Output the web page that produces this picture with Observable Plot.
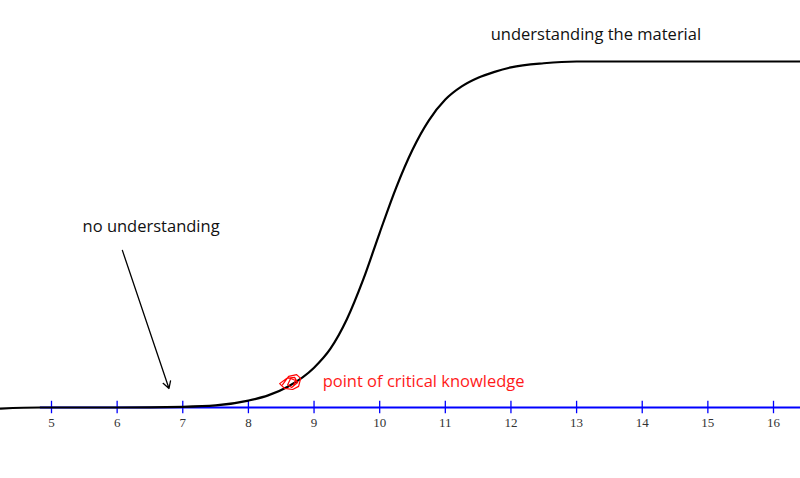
<!DOCTYPE html>
<html>
<head>
<meta charset="utf-8">
<script src="https://cdn.jsdelivr.net/npm/d3@7"></script>
<script src="https://cdn.jsdelivr.net/npm/@observablehq/plot@0.6"></script>
<style>
  html, body { margin: 0; padding: 0; background: #fff; }
  #chart svg { display: block; }
</style>
</head>
<body>
<div id="chart"></div>
<script>
// Axis tick values
const tickValues = [5, 6, 7, 8, 9, 10, 11, 12, 13, 14, 15, 16];

// Learning curve (x: study level, y: understanding 0..1)
const curveX = [4.22, 4.83, 6.0, 7.0, 7.5, 8.0, 8.3, 8.6, 9.0, 9.25, 9.5, 9.75, 10.0, 10.25, 10.5, 10.75, 11.0, 11.25, 11.5, 11.75, 12.0, 12.5, 13.0, 14.0, 16.42];
const curveY = [-0.003, 0.0, 0.0, 0.002, 0.006, 0.020, 0.035, 0.060, 0.115, 0.170, 0.255, 0.370, 0.505, 0.635, 0.745, 0.830, 0.890, 0.928, 0.953, 0.970, 0.983, 0.995, 1.0, 1.0, 1.0];

// Red scribble marking the point of critical knowledge
const scribbleX = [8.521, 8.613, 8.735, 8.796, 8.765, 8.674, 8.552, 8.476, 8.582, 8.704, 8.750, 8.659, 8.598, 8.643, 8.720, 8.689];
const scribbleY = [0.066, 0.090, 0.095, 0.084, 0.061, 0.052, 0.055, 0.069, 0.084, 0.087, 0.072, 0.058, 0.066, 0.084, 0.078, 0.064];

// Annotations
const labels = [
  {x: 5.473, y: 0.523, text: "no understanding", color: "#111"},
  {x: 11.692, y: 1.078, text: "understanding the material", color: "#111"},
  {x: 9.131, y: 0.075, text: "point of critical knowledge", color: "#ff1a1a"}
];
const arrowData = [{x1: 6.08, y1: 0.454, x2: 6.79, y2: 0.055}];
const axisStart = 4.83, axisEnd = 16.5;

const curve = curveX.map((x, i) => ({x, y: curveY[i]}));
const scribble = scribbleX.map((x, i) => ({x, y: scribbleY[i]}));

const chart = Plot.plot({
  width: 800,
  height: 478,
  margin: 0,
  x: {domain: [5, 16], range: [51, 773], axis: null},
  y: {domain: [0, 1], range: [407, 61], axis: null},
  style: {background: "#fff"},
  marks: [
    Plot.ruleY([0], {x1: () => axisStart, x2: () => axisEnd, stroke: "#0000ff", strokeWidth: 2}),
    Plot.ruleX(tickValues, {x: d => d, y1: 0.018, y2: -0.018, stroke: "#0000ff", strokeWidth: 1.3}),
    Plot.text(tickValues, {x: d => d, y: 0, dy: 15, text: d => String(d), fill: "#333", fontSize: 13, fontFamily: "Liberation Serif, serif"}),
    Plot.line(curve, {x: "x", y: "y", stroke: "#000", strokeWidth: 2.2, curve: "monotone-x"}),
    Plot.line(scribble, {x: "x", y: "y", stroke: "#ff0000", strokeWidth: 1.2, curve: "linear"}),
    Plot.arrow(arrowData, {x1: "x1", y1: "y1", x2: "x2", y2: "y2", stroke: "#000", strokeWidth: 1.3, headLength: 9, bend: 0}),
    Plot.text(labels, {x: "x", y: "y", text: "text", fill: "color", textAnchor: "start", fontSize: 16.5, fontFamily: "Open Sans, sans-serif"})
  ]
});
document.getElementById("chart").appendChild(chart);
</script>
</body>
</html>
